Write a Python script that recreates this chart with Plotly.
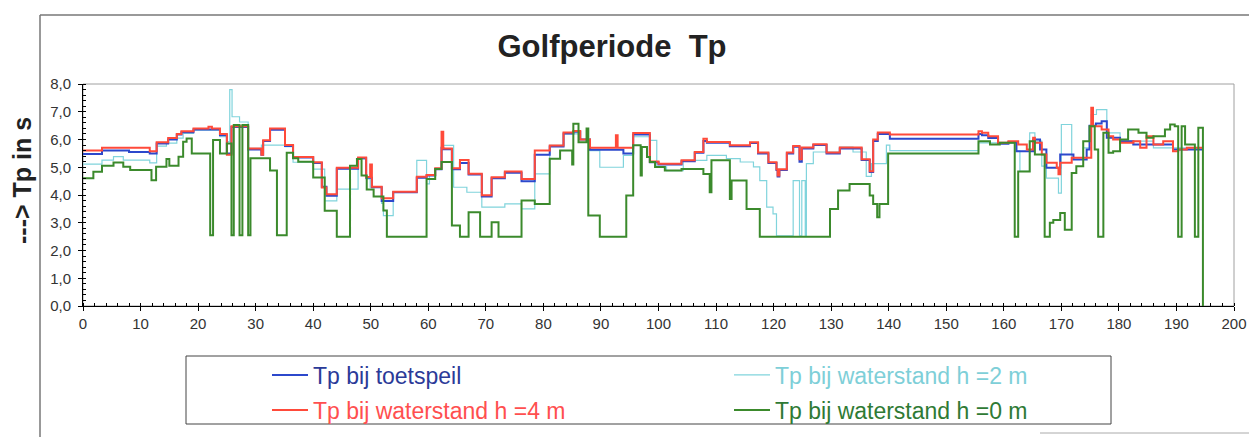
import plotly.graph_objects as go

# ---------------- data ----------------
title_text = "Golfperiode&nbsp; Tp"
y_title = "---> Tp in s"
names = ["Tp bij toetspeil", "Tp bij waterstand h =4 m",
         "Tp bij waterstand h =2 m", "Tp bij waterstand h =0 m"]

# step series: (start of step along x, Tp value in s)
blue_steps = [(0, 5.48), (3.3, 5.6), (8, 5.55), (11.6, 5.5), (12.8, 5.86), (14.8, 6.0), (16.3, 6.18),
              (17.1, 6.26), (19.2, 6.36), (23.8, 6.15), (25.0, 5.5), (25.8, 6.45), (28.7, 5.64),
              (31.0, 5.45), (31.3, 5.95), (32.5, 6.35), (35.1, 5.77), (36.5, 5.35), (40.0, 5.15),
              (41.5, 4.3), (42.3, 3.97), (44.1, 4.95), (47.8, 5.32), (49.2, 4.62), (50.2, 4.28),
              (51.9, 3.78), (53.9, 4.1), (58.0, 4.62), (59.7, 4.7), (61.2, 4.93), (62.3, 5.7),
              (62.6, 5.65), (64.1, 4.93), (65.5, 5.15), (67.0, 4.74), (69.3, 3.95), (71.0, 4.6),
              (73.3, 4.8), (76.2, 4.5), (78.5, 5.45), (81.1, 5.75), (83.5, 6.22), (85.2, 6.28),
              (86.4, 6.0), (88.1, 5.63), (93.9, 5.5), (95.6, 6.18), (98.5, 5.18), (100.0, 5.1),
              (104.0, 5.22), (106.3, 5.52), (107.8, 5.95), (108.4, 5.88), (112.4, 5.76), (115.9, 5.87),
              (117.3, 5.5), (119.1, 5.15), (120.5, 4.9), (120.7, 4.67), (121.0, 4.9), (122.3, 5.5),
              (123.4, 5.74), (124.5, 5.2), (124.9, 5.68), (126.9, 5.8), (129.2, 5.5), (131.5, 5.68),
              (135.3, 5.26), (136.7, 4.83), (137.3, 5.95), (138.1, 6.2), (140.2, 6.03), (155.6, 6.2),
              (156.2, 6.15), (157.3, 6.05), (159.0, 5.85), (160.8, 5.9), (162.2, 5.58), (165.1, 6.0),
              (166.3, 5.64), (167.4, 4.98), (169.8, 5.46), (172.1, 5.28), (174.4, 5.64), (174.9, 6.5),
              (176.0, 6.58), (177.0, 6.66), (177.9, 6.06), (180.2, 5.94), (182.5, 5.82), (189.4, 5.64),
              (194.5, 5.64)]

red_steps = [(0, 5.6), (3.3, 5.7), (11.6, 5.58), (12.8, 5.9), (14.8, 6.05), (16.3, 6.2), (17.1, 6.3),
             (19.2, 6.4), (21.8, 6.46), (22.4, 6.4), (23.8, 6.2), (25.0, 5.45), (25.8, 6.48),
             (28.7, 5.68), (31.0, 5.45), (31.3, 5.97), (32.5, 6.4), (35.1, 5.8), (36.5, 5.37),
             (40.0, 5.18), (41.5, 4.27), (42.3, 4.03), (44.1, 4.98), (47.8, 5.35), (49.2, 4.65),
             (49.9, 5.1), (50.2, 4.3), (51.9, 3.88), (53.9, 4.12), (58.0, 4.66), (59.7, 4.72),
             (61.2, 4.96), (62.3, 6.28), (62.6, 5.68), (64.1, 4.96), (65.5, 5.26), (67.0, 4.77),
             (69.3, 3.99), (71.0, 4.64), (73.3, 4.85), (76.2, 4.58), (78.5, 5.6), (81.1, 5.78),
             (83.5, 6.25), (85.2, 6.31), (86.4, 6.0), (88.1, 5.7), (92.6, 6.15), (92.9, 5.7),
             (95.6, 6.23), (98.5, 5.21), (100.0, 5.13), (104.0, 5.25), (106.3, 5.55), (107.8, 6.03),
             (108.4, 5.91), (112.4, 5.79), (115.9, 5.9), (117.3, 5.53), (119.1, 5.18), (120.5, 4.93),
             (120.7, 4.7), (121.0, 4.93), (122.3, 5.53), (123.4, 5.77), (124.5, 5.29), (124.9, 5.71),
             (126.9, 5.83), (129.2, 5.53), (131.5, 5.71), (135.3, 5.29), (136.7, 4.86), (137.3, 6.0),
             (138.1, 6.25), (140.2, 6.18), (155.6, 6.3), (156.2, 6.24), (157.3, 6.12), (159.0, 5.88),
             (160.8, 5.94), (162.5, 5.82), (164.0, 5.64), (165.1, 6.06), (165.4, 5.88), (166.6, 5.46),
             (167.4, 5.16), (169.2, 4.98), (169.5, 4.75), (169.8, 5.16), (171.8, 5.34), (175.2, 7.14),
             (175.5, 6.48), (177.0, 6.36), (178.2, 6.12), (179.0, 6.0), (180.2, 5.88), (182.5, 5.94),
             (183.7, 5.7), (184.8, 6.12), (186.0, 5.82), (187.7, 5.94), (189.4, 5.58), (190.3, 5.64),
             (191.8, 5.7), (194.5, 5.7)]

cyan_steps = [(0, 5.11), (3.3, 5.26), (5.3, 5.38), (7.0, 5.26), (11.6, 5.16), (12.8, 5.76), (14.5, 5.87),
              (16.3, 6.05), (17.4, 6.22), (19.2, 6.34), (23.8, 6.1), (25.0, 5.92), (25.5, 7.8),
              (25.9, 6.82), (27.2, 6.63), (28.7, 5.68), (31.0, 5.8), (35.1, 5.74), (36.5, 5.18),
              (40.0, 4.93), (42.0, 3.79), (44.1, 4.21), (47.8, 5.3), (49.2, 4.58), (49.9, 4.28),
              (51.9, 3.7), (52.2, 3.26), (53.9, 4.1), (58.0, 5.25), (59.7, 4.4), (60.2, 4.72),
              (61.2, 4.96), (62.3, 5.79), (64.4, 4.28), (66.7, 4.1), (69.3, 3.56), (73.3, 3.68),
              (76.2, 3.5), (78.5, 4.76), (81.1, 5.79), (83.5, 6.2), (86.4, 6.0), (88.1, 5.6),
              (89.8, 5.0), (93.9, 5.43), (95.6, 6.1), (98.5, 5.97), (99.7, 5.01), (101.4, 4.88),
              (104.3, 5.25), (108.4, 5.43), (111.8, 5.31), (114.2, 5.19), (116.5, 5.01), (117.6, 4.52),
              (118.8, 3.56), (119.9, 3.32), (120.5, 2.53), (123.4, 4.52), (124.5, 2.53), (124.9, 4.52),
              (125.5, 2.53), (125.7, 5.13), (126.9, 5.55), (131.5, 5.73), (133.8, 5.55), (136.1, 4.67),
              (137.0, 5.13), (139.6, 5.8), (140.2, 5.6), (155.6, 5.88), (162.2, 5.58), (162.8, 4.85),
              (164.5, 6.24), (165.4, 5.94), (166.6, 5.04), (167.4, 4.61), (169.5, 4.07), (170.0, 6.54),
              (171.8, 5.28), (173.8, 5.7), (175.2, 6.9), (176.1, 7.08), (177.9, 6.24), (180.2, 5.94),
              (186.0, 5.7), (194.5, 5.7)]

green_steps = [(0, 4.6), (1.8, 4.84), (3.3, 5.05), (5.3, 5.17), (7.0, 5.02), (8.2, 4.9), (11.9, 4.53),
               (12.7, 5.02), (14.5, 5.3), (15.0, 5.05), (16.6, 5.38), (17.4, 5.92), (18.0, 6.04),
               (18.9, 5.5), (22.1, 2.55), (22.6, 5.98), (23.8, 5.5), (25.0, 5.86), (25.8, 2.55),
               (26.2, 6.52), (27.2, 2.55), (27.7, 6.52), (28.7, 2.55), (29.1, 5.32), (32.5, 4.88),
               (33.7, 2.55), (35.4, 5.52), (36.5, 5.32), (37.4, 5.2), (40.0, 4.63), (42.0, 3.43),
               (44.1, 2.5), (46.4, 5.05), (47.6, 5.3), (48.4, 4.7), (49.3, 4.2), (50.5, 3.95),
               (52.2, 3.44), (52.8, 2.5), (59.7, 4.58), (61.2, 4.94), (62.3, 5.19), (64.1, 2.9),
               (65.5, 2.5), (67.0, 3.38), (69.0, 2.5), (71.0, 3.02), (72.2, 2.5), (76.2, 3.8),
               (78.5, 3.68), (81.1, 5.31), (82.9, 5.6), (85.0, 5.1), (85.2, 6.57), (86.1, 5.9),
               (87.5, 6.4), (87.8, 3.26), (89.8, 2.5), (94.4, 3.98), (95.6, 5.79), (96.9, 4.7),
               (97.1, 5.73), (98.0, 5.37), (98.5, 5.19), (99.4, 5.01), (101.1, 4.88), (104.0, 4.94),
               (107.8, 4.76), (108.9, 4.1), (109.2, 5.25), (112.4, 3.86), (112.7, 4.52), (115.3, 3.5),
               (117.6, 2.5), (129.8, 3.5), (131.2, 4.16), (133.2, 4.4), (136.7, 3.98), (137.3, 3.68),
               (138.0, 3.2), (138.4, 3.68), (139.9, 5.5), (155.6, 5.94), (157.6, 5.82), (159.3, 5.88),
               (161.9, 2.5), (162.5, 4.85), (164.5, 5.94), (165.4, 5.46), (167.1, 2.5), (168.0, 3.0),
               (168.6, 3.1), (169.8, 3.35), (170.6, 2.75), (171.8, 4.79), (172.6, 5.04), (173.8, 5.94),
               (174.9, 6.48), (175.8, 5.64), (176.4, 2.5), (177.3, 6.24), (178.2, 5.52), (179.0, 5.58),
               (180.2, 6.0), (181.6, 6.36), (183.4, 6.24), (184.8, 6.06), (186.0, 6.12), (188.0, 6.36),
               (188.9, 6.54), (189.7, 6.48), (190.3, 2.5), (190.9, 6.48), (191.5, 5.82), (193.2, 2.5),
               (193.8, 6.42), (194.6, 0.0), (194.7, 0.0)]

# ---------------- figure ----------------
W, H = 1249, 437
ML, MR, MT, MB = 83, 15, 84, 131
PW, PH = W - ML - MR, H - MT - MB


def px_x(p):
    return (p - ML) / PW


def px_y(p):
    return (H - MB - p) / PH


line_colors = {"blue": "#2c48cc", "red": "#ff4a3a", "cyan": "#80d4dc", "green": "#3b8a2c"}
text_colors = {"blue": "#2b3a98", "red": "#ff4f4f", "cyan": "#7ecfd8", "green": "#2f7a34"}

fig = go.Figure()


def add(steps, name, key, width, legend):
    xs = [s[0] for s in steps]
    ys = [s[1] for s in steps]
    fig.add_trace(go.Scatter(x=xs, y=ys, mode="lines", name=name, legend=legend,
                             line=dict(color=line_colors[key], width=width, shape="hv")))


add(cyan_steps, names[2], "cyan", 1.2, "legend3")
add(blue_steps, names[0], "blue", 2, "legend")
add(red_steps, names[1], "red", 2, "legend2")
add(green_steps, names[3], "green", 2, "legend4")

font_family = "Liberation Sans, Arial, Helvetica, sans-serif"


def leg(xp, yp, key):
    return dict(x=px_x(xp), y=px_y(yp), xanchor="left", yanchor="middle",
                bgcolor="rgba(0,0,0,0)", borderwidth=0, itemwidth=36,
                font=dict(size=23, color=text_colors[key], family=font_family))


fig.update_layout(
    width=W, height=H,
    margin=dict(l=ML, r=MR, t=MT, b=MB, pad=0, autoexpand=False),
    paper_bgcolor="white", plot_bgcolor="white",
    separators=",.",
    font=dict(family=font_family, color="#333"),
    title=dict(text="<b>" + title_text + "</b>", x=px_x(612), xref="paper", xanchor="center",
               y=1 - 46 / H, yref="container", yanchor="middle",
               font=dict(size=31, color="#222", family=font_family)),
    showlegend=True,
    legend=leg(267, 375, "blue"),
    legend2=leg(267, 410, "red"),
    legend3=leg(729, 375, "cyan"),
    legend4=leg(729, 410, "green"),
    xaxis=dict(range=[0, 200], tick0=0, dtick=10, showline=True, linecolor="black", linewidth=1,
               ticks="outside", ticklen=4, tickcolor="black", automargin=False,
               minor=dict(dtick=2, ticks="inside", ticklen=3, tickcolor="black"),
               showgrid=False, zeroline=False, tickfont=dict(size=15, color="#333")),
    yaxis=dict(range=[0, 8], tick0=0, dtick=1, tickformat=".1f", showline=True, linecolor="black",
               linewidth=1, ticks="outside", ticklen=4, tickcolor="black", automargin=False,
               ticklabelstandoff=4,
               minor=dict(dtick=0.2, ticks="inside", ticklen=3, tickcolor="black"),
               showgrid=False, zeroline=False, tickfont=dict(size=15, color="#333")),
    shapes=[
        dict(type="rect", xref="paper", yref="paper", x0=0, x1=1, y0=0, y1=1,
             line=dict(color="#a0a0a0", width=1), layer="below"),
        dict(type="line", xref="paper", yref="paper", x0=px_x(40), x1=px_x(1249),
             y0=px_y(15), y1=px_y(15), line=dict(color="#777", width=1.5)),
        dict(type="line", xref="paper", yref="paper", x0=px_x(40), x1=px_x(40),
             y0=px_y(15), y1=px_y(437), line=dict(color="#777", width=1.5)),
        dict(type="rect", xref="paper", yref="paper", x0=px_x(186), x1=px_x(1111),
             y0=px_y(424), y1=px_y(356), line=dict(color="#444", width=1)),
        dict(type="line", xref="paper", yref="paper", x0=px_x(1040), x1=px_x(1249),
             y0=px_y(433), y1=px_y(433), line=dict(color="#aaa", width=1)),
    ],
    annotations=[
        dict(text="<b>" + y_title + "</b>", xref="paper", yref="paper", x=px_x(22), y=px_y(181),
             xanchor="center", yanchor="middle", textangle=-90, showarrow=False,
             font=dict(size=25, color="#222", family=font_family)),
    ],
)

# remove the browser's default page margin so the figure sits at the window's top-left corner
fig.write_html("out.html", config={"displayModeBar": False},
               post_script="document.body.style.margin='0px';document.body.style.overflow='hidden';")
